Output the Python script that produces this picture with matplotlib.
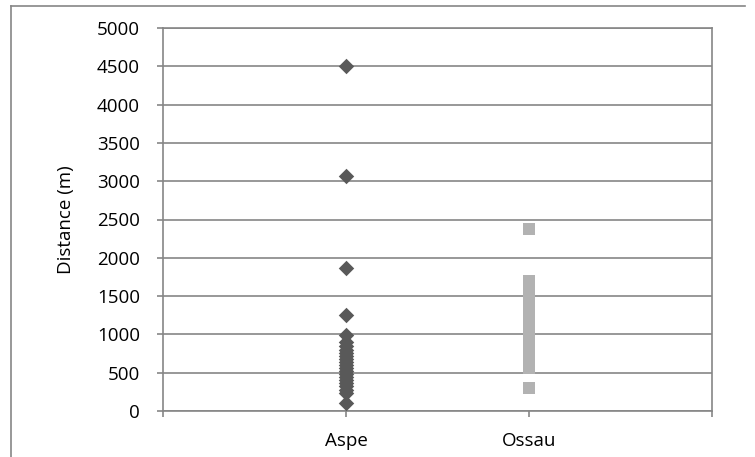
import matplotlib.pyplot as plt
from matplotlib.lines import Line2D

plt.rcParams['font.family'] = ['Open Sans', 'DejaVu Sans']

# data
aspe = [4500, 3070, 1870, 1250, 990, 900, 850, 800, 760, 720, 680, 640, 600,
        560, 520, 480, 440, 400, 360, 320, 280, 240, 100]
ossau = [2370, 1700, 1650, 1600, 1520, 1450, 1380, 1320, 1260, 1200, 1130,
         1060, 1000, 930, 860, 800, 740, 680, 620, 560, 300]
sites = ['Aspe', 'Ossau']
yticks = list(range(0, 5001, 500))

grid_col = '#868686'
fs = 13.5

fig = plt.figure(figsize=(7.55, 4.57), dpi=100)
ax = fig.add_axes([163 / 755, 46 / 457, 549 / 755, 383 / 457])

ax.scatter([1] * len(aspe), aspe, marker='D', s=62, color='#595959',
           linewidths=0, zorder=3)
ax.scatter([2] * len(ossau), ossau, marker='s', s=80, color='#b2b2b2',
           linewidths=0, zorder=3)

ax.set_xlim(0, 3)
ax.set_ylim(0, 5000)
ax.set_yticks(yticks)
ax.set_xticks([0, 1, 2, 3])
ax.set_xticklabels(['', sites[0], sites[1], ''])
ax.yaxis.grid(True, color=grid_col, linewidth=1.2)
ax.set_axisbelow(True)

for s in ax.spines.values():
    s.set_color(grid_col)
    s.set_linewidth(1.2)

ax.tick_params(axis='y', direction='out', length=4.5, width=1.2, color=grid_col,
               labelsize=fs, pad=12)
ax.tick_params(axis='x', direction='out', length=4, width=1.2, color=grid_col,
               labelsize=fs, pad=11)
ax.set_ylabel('Distance (m)', fontsize=fs, labelpad=16)

# outer chart frame (top and left edges)
fig.add_artist(Line2D([11 / 755, 745 / 755], [1 - 6 / 457, 1 - 6 / 457],
                      color=grid_col, linewidth=1.2))
fig.add_artist(Line2D([11 / 755, 11 / 755], [0, 1 - 6 / 457],
                      color=grid_col, linewidth=1.2))

fig.savefig('out.png', dpi=100)
